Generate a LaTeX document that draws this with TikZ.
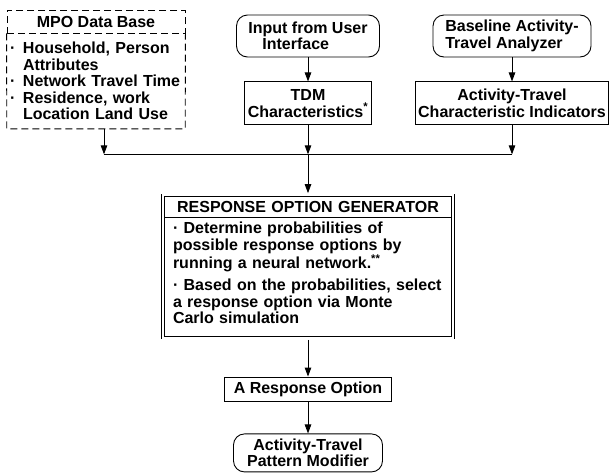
\documentclass[tikz,border=0pt]{standalone}
\usepackage{fontspec}
\setmainfont{Liberation Sans}
\usetikzlibrary{arrows.meta,positioning,fit}

\newcommand{\dbitem}{\makebox[13pt][l]{·}}
\newcommand{\dbcont}{\hspace*{13pt}}

\begin{document}
\begin{tikzpicture}[
  x=1pt, y=1pt,
  font=\fontsize{16}{16.5}\selectfont\bfseries,
  box/.style={draw, line width=0.9pt, align=center, inner sep=3pt},
  term/.style={draw, line width=0.9pt, rounded corners=11pt, minimum height=42pt},
  dbline/.style={draw, line width=0.9pt, dash pattern=on 7pt off 4pt},
  genpart/.style={text width=280pt, inner xsep=5pt, inner ysep=0pt},
  arrow/.style={-{Triangle[length=9pt,width=6.5pt]}, line width=0.9pt},
  bus/.style={line width=0.9pt}
]
\useasboundingbox (0,0) rectangle (609,-472);
% inputs
\node[dbline, minimum width=178pt, minimum height=23pt] (mpohead) at (96,-21.5) {MPO Data Base};
\node[below=0pt of mpohead, minimum height=95pt, text width=172pt, inner xsep=3pt, align=left] (mpobody) {\dbitem Household, Person\\ \dbcont Attributes\\ \dbitem Network Travel Time\\ \dbitem Residence, work\\ \dbcont Location Land Use};
\draw[dbline] (mpohead.south west) -- (mpobody.south west) -- (mpobody.south east) -- (mpohead.south east);
\node[term, minimum width=143pt, align=left] (input) at (308,-36) {Input from User\\\hspace*{14pt}Interface};
\node[box, below=24pt of input, minimum width=126pt, minimum height=43pt] (tdm) {TDM\\Characteristics\textsuperscript{*}};
\node[term, minimum width=158pt, align=left] (base) at (512,-36) {Baseline Activity-\\Travel Analyzer};
\node[box, below=24pt of base, minimum width=192pt, minimum height=43pt] (indic) {Activity-Travel\\Characteristic Indicators};
\draw[arrow] (input) -- (tdm);
\draw[arrow] (base) -- (indic);
% collecting line
\coordinate[below=29pt of tdm] (hub);
\coordinate (busL) at ([xshift=8pt]mpobody.south |- hub);
\coordinate (busR) at (indic.south |- hub);
\draw[arrow] ([xshift=8pt]mpobody.south) -- (busL);
\draw[arrow] (tdm) -- (hub);
\draw[arrow] (indic) -- (busR);
\draw[bus] (busL) -- (busR);
% generator
\node[genpart, below=41pt of hub, minimum height=22pt, align=center] (genhead) {RESPONSE OPTION GENERATOR};
\node[genpart, below=0pt of genhead, minimum height=110pt, align=left] (genbody) {\hspace*{5pt}· Determine probabilities of\\\hspace*{5pt}possible response options by\\\hspace*{5pt}running a neural network.\textsuperscript{**}\\[6pt]\hspace*{5pt}· Based on the probabilities, select\\\hspace*{5pt}a response option via Monte\\\hspace*{5pt}Carlo simulation};
\coordinate[below=9.5pt of genbody.south] (genfoot);
\draw[bus] (genhead.south west) -- (genhead.south east);
\node[fit=(genhead)(genbody)(genfoot), inner sep=0pt, draw, double, double distance=2pt, line width=0.8pt] (gen) {};
\draw[arrow, shorten >=1.8pt] (hub) -- (gen);
% output
\node[box, below=38.5pt of gen, minimum width=167pt, minimum height=24pt] (resp) {A Response Option};
\node[term, below=32pt of resp, minimum width=149pt, minimum height=38pt, align=center] (modif) {Activity-Travel\\Pattern Modifier};
\draw[arrow, shorten <=1.8pt] (gen) -- (resp);
\draw[arrow] (resp) -- (modif);
\end{tikzpicture}
\end{document}
